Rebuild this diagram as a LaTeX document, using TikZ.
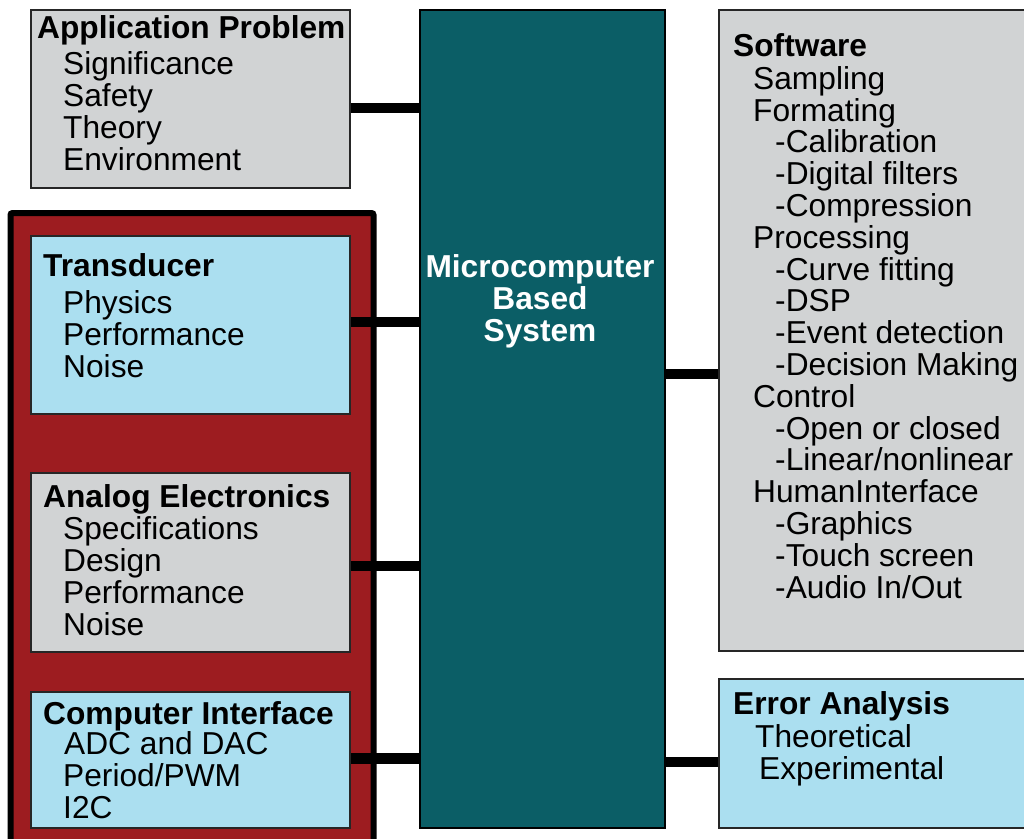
\documentclass[tikz,border=0pt]{standalone}
\usepackage{fontspec}
\setmainfont{Liberation Sans}
\usetikzlibrary{calc}

\definecolor{boxgray}{HTML}{D1D3D4}
\definecolor{boxblue}{HTML}{ABDFF0}
\definecolor{sysred}{HTML}{9D1C20}
\definecolor{systeal}{HTML}{0B5E66}

\tikzset{
  box/.style={draw=black!85,line width=2pt,minimum width=319pt,inner sep=0pt},
  graybox/.style={box,fill=boxgray},
  bluebox/.style={box,fill=boxblue},
  link/.style={line width=10.5pt},
  txt/.style={anchor=north west,inner sep=0pt,align=left,
    font=\fontsize{31.7}{32}\selectfont}
}
\newcommand{\topline}{\rule{0pt}{25pt}}

\begin{document}
\begin{tikzpicture}[x=1pt,y=-1pt]
\useasboundingbox (0,0) rectangle (1024,838);

% boxes
\node[graybox,minimum height=178pt] (app) at (190.5,99) {};
\node[draw=black,line width=6pt,fill=sysred,rounded corners=2pt,inner sep=0pt,
  minimum width=363pt,minimum height=647pt] (front) at (192,536.5) {};
\node[bluebox,minimum height=178pt] (trans) at (190.5,325) {};
\node[graybox,minimum height=179pt] (analog) at (190.5,562.5) {};
\node[bluebox,minimum height=136pt] (iface) at (190.5,760) {};
\node[box,draw=black,fill=systeal,minimum width=245pt,minimum height=818pt] (micro) at (542.5,419) {};
\node[graybox,minimum width=321pt,minimum height=641pt] (soft) at (879.5,330.5) {};
\node[bluebox,minimum width=321pt,minimum height=149pt] (err) at (879.5,753.5) {};

% texts
\node[txt] (apptxt) at (37,13) {\topline\textbf{Application Problem}\\[4pt]
  \hspace*{26pt}Significance\\\hspace*{26pt}Safety\\
  \hspace*{26pt}Theory\\\hspace*{26pt}Environment};
\node[txt] (transtxt) at (43,251) {\topline\textbf{Transducer}\\[5pt]
  \hspace*{20pt}Physics\\\hspace*{20pt}Performance\\\hspace*{20pt}Noise};
\node[txt] (analogtxt) at (43,482) {\topline\textbf{Analog Electronics}\\
  \hspace*{20pt}Specifications\\\hspace*{20pt}Design\\
  \hspace*{20pt}Performance\\\hspace*{20pt}Noise};
\node[txt] (ifacetxt) at (43,699) {\topline\textbf{Computer Interface}\\[-2pt]
  \hspace*{21pt}ADC and DAC\\\hspace*{20pt}Period/PWM\\\hspace*{20pt}I2C};
\node[anchor=north,inner sep=0pt,align=center,text=white,
  font=\fontsize{31.7}{32}\selectfont\bfseries] (microtxt) at (540,252)
  {\topline Microcomputer\\Based\\System};
\node[txt,font=\fontsize{31.7}{31.8}\selectfont] (softtxt) at (733,31)
  {\topline\textbf{Software}\\[1.2pt]
  \hspace*{20pt}Sampling\\\hspace*{20pt}Formating\\
  \hspace*{42pt}-Calibration\\\hspace*{42pt}-Digital filters\\\hspace*{42pt}-Compression\\
  \hspace*{20pt}Processing\\
  \hspace*{42pt}-Curve fitting\\\hspace*{42pt}-DSP\\\hspace*{42pt}-Event detection\\
  \hspace*{42pt}-Decision Making\\
  \hspace*{20pt}Control\\
  \hspace*{42pt}-Open or closed\\\hspace*{42pt}-Linear/nonlinear\\
  \hspace*{20pt}HumanInterface\\
  \hspace*{42pt}-Graphics\\\hspace*{42pt}-Touch screen\\\hspace*{42pt}-Audio In/Out};
\node[txt] (errtxt) at (733,689) {\topline\textbf{Error Analysis}\\[1.5pt]
  \hspace*{22pt}Theoretical\\\hspace*{26pt}Experimental};

% connectors
\coordinate (yapp) at (0,108);
\coordinate (ytrans) at (0,322);
\coordinate (yanalog) at (0,566);
\coordinate (yiface) at (0,758.5);
\coordinate (ysoft) at (0,374);
\coordinate (yerr) at (0,762);
\draw[link] (app.east |- yapp) -- (micro.west |- yapp);
\draw[link] (trans.east |- ytrans) -- (micro.west |- ytrans);
\draw[link] (analog.east |- yanalog) -- (micro.west |- yanalog);
\draw[link] (iface.east |- yiface) -- (micro.west |- yiface);
\draw[link] (micro.east |- ysoft) -- (soft.west |- ysoft);
\draw[link] (micro.east |- yerr) -- (err.west |- yerr);
\end{tikzpicture}
\end{document}
